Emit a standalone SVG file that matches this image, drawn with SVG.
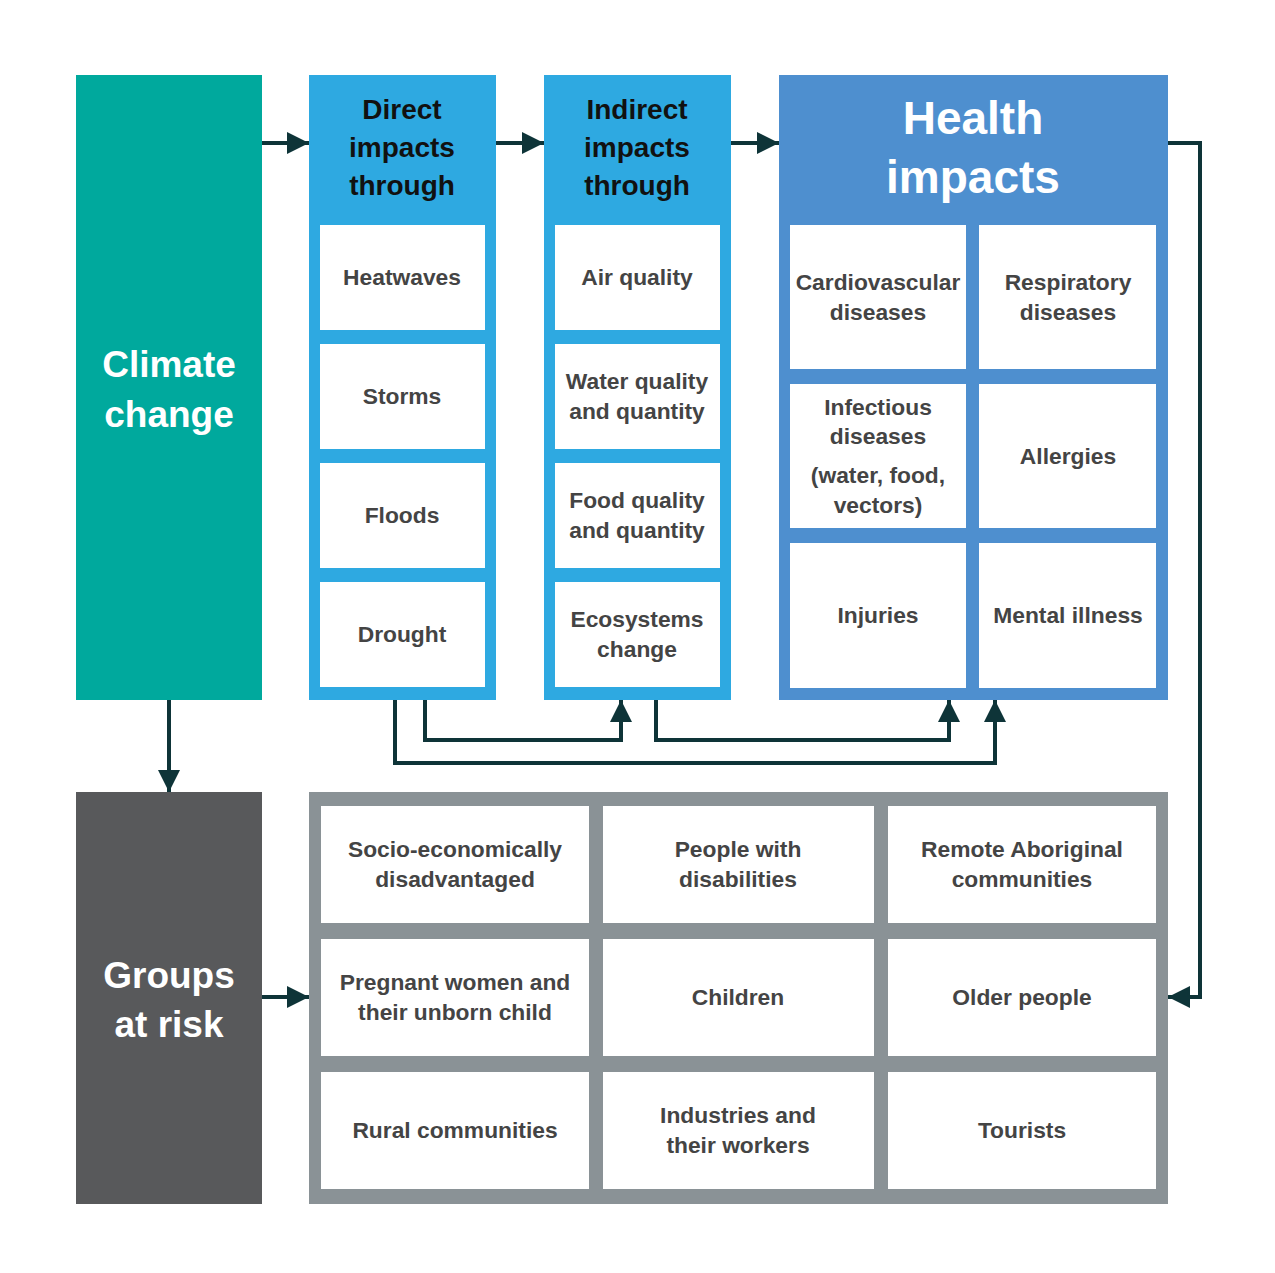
<svg xmlns="http://www.w3.org/2000/svg" width="1275" height="1273" viewBox="0 0 1275 1273">
<defs>
<marker id="ah" viewBox="0 0 10 10" refX="10" refY="5" markerWidth="6" markerHeight="5.5" orient="auto" markerUnits="strokeWidth">
<path d="M0,0 L10,5 L0,10 Z" fill="#0E3438"/>
</marker>
</defs>
<style>
.box{fill:#fff}
.t{font-family:"Liberation Sans",Arial,sans-serif;font-weight:bold;font-size:22.8px;fill:#444;text-anchor:middle}
.h{font-family:"Liberation Sans",Arial,sans-serif;font-weight:bold;font-size:28px;fill:#111;text-anchor:middle}
.w{font-family:"Liberation Sans",Arial,sans-serif;font-weight:bold;fill:#fff;text-anchor:middle}
.c{fill:none;stroke:#0E3438;stroke-width:4}
</style>
<rect width="1275" height="1273" fill="#fff"/>
<g id="climate">
<rect x="76" y="75" width="186" height="625" fill="#00A99D"/>
<text class="w" font-size="37" x="169" y="377">Climate</text>
<text class="w" font-size="37" x="169" y="427">change</text>
</g>
<g id="direct">
<rect x="309" y="75" width="187" height="625" fill="#2EA9E1"/>
<text class="h" x="402" y="119">Direct</text>
<text class="h" x="402" y="157">impacts</text>
<text class="h" x="402" y="195">through</text>
<rect class="box" x="320" y="225" width="165" height="105"/>
<rect class="box" x="320" y="344" width="165" height="105"/>
<rect class="box" x="320" y="463" width="165" height="105"/>
<rect class="box" x="320" y="582" width="165" height="105"/>
<text class="t" x="402" y="285">Heatwaves</text>
<text class="t" x="402" y="404">Storms</text>
<text class="t" x="402" y="523">Floods</text>
<text class="t" x="402" y="642">Drought</text>
</g>
<g id="indirect">
<rect x="544" y="75" width="187" height="625" fill="#2EA9E1"/>
<text class="h" x="637" y="119">Indirect</text>
<text class="h" x="637" y="157">impacts</text>
<text class="h" x="637" y="195">through</text>
<rect class="box" x="555" y="225" width="165" height="105"/>
<rect class="box" x="555" y="344" width="165" height="105"/>
<rect class="box" x="555" y="463" width="165" height="105"/>
<rect class="box" x="555" y="582" width="165" height="105"/>
<text class="t" x="637" y="285">Air quality</text>
<text class="t" x="637" y="389">Water quality</text>
<text class="t" x="637" y="419">and quantity</text>
<text class="t" x="637" y="508">Food quality</text>
<text class="t" x="637" y="538">and quantity</text>
<text class="t" x="637" y="627">Ecosystems</text>
<text class="t" x="637" y="657">change</text>
</g>
<g id="health">
<rect x="779" y="75" width="389" height="625" fill="#4E8FCF"/>
<text class="w" font-size="46" x="973" y="134">Health</text>
<text class="w" font-size="46" x="973" y="193">impacts</text>
<rect class="box" x="790" y="225" width="176" height="144"/>
<rect class="box" x="979" y="225" width="177" height="144"/>
<rect class="box" x="790" y="384" width="176" height="144"/>
<rect class="box" x="979" y="384" width="177" height="144"/>
<rect class="box" x="790" y="543" width="176" height="145"/>
<rect class="box" x="979" y="543" width="177" height="145"/>
<text class="t" x="878" y="290">Cardiovascular</text>
<text class="t" x="878" y="320">diseases</text>
<text class="t" x="1068" y="290">Respiratory</text>
<text class="t" x="1068" y="320">diseases</text>
<text class="t" x="878" y="415">Infectious</text>
<text class="t" x="878" y="444">diseases</text>
<text class="t" x="878" y="483">(water, food,</text>
<text class="t" x="878" y="513">vectors)</text>
<text class="t" x="1068" y="464">Allergies</text>
<text class="t" x="878" y="623">Injuries</text>
<text class="t" x="1068" y="623">Mental illness</text>
</g>
<g id="groups">
<rect x="76" y="792" width="186" height="412" fill="#58595B"/>
<text class="w" font-size="37" x="169" y="988">Groups</text>
<text class="w" font-size="37" x="169" y="1037">at risk</text>
</g>
<g id="risk-grid">
<rect x="309" y="792" width="859" height="412" fill="#8A9296"/>
<rect class="box" x="321" y="806" width="268" height="117"/>
<rect class="box" x="603" y="806" width="271" height="117"/>
<rect class="box" x="888" y="806" width="268" height="117"/>
<rect class="box" x="321" y="939" width="268" height="117"/>
<rect class="box" x="603" y="939" width="271" height="117"/>
<rect class="box" x="888" y="939" width="268" height="117"/>
<rect class="box" x="321" y="1072" width="268" height="117"/>
<rect class="box" x="603" y="1072" width="271" height="117"/>
<rect class="box" x="888" y="1072" width="268" height="117"/>
<text class="t" x="455" y="857">Socio-economically</text>
<text class="t" x="455" y="887">disadvantaged</text>
<text class="t" x="738" y="857">People with</text>
<text class="t" x="738" y="887">disabilities</text>
<text class="t" x="1022" y="857">Remote Aboriginal</text>
<text class="t" x="1022" y="887">communities</text>
<text class="t" x="455" y="990">Pregnant women and</text>
<text class="t" x="455" y="1020">their unborn child</text>
<text class="t" x="738" y="1005">Children</text>
<text class="t" x="1022" y="1005">Older people</text>
<text class="t" x="455" y="1138">Rural communities</text>
<text class="t" x="738" y="1123">Industries and</text>
<text class="t" x="738" y="1153">their workers</text>
<text class="t" x="1022" y="1138">Tourists</text>
</g>
<g id="connectors">
<path class="c" d="M262,143 H309" marker-end="url(#ah)"/>
<path class="c" d="M496,143 H544" marker-end="url(#ah)"/>
<path class="c" d="M731,143 H779" marker-end="url(#ah)"/>
<path class="c" d="M1168,143 H1200 V997 H1168" marker-end="url(#ah)"/>
<path class="c" d="M169,700 V792" marker-end="url(#ah)"/>
<path class="c" d="M262,997 H309" marker-end="url(#ah)"/>
<path class="c" d="M425,700 V740 H621 V700" marker-end="url(#ah)"/>
<path class="c" d="M656,700 V740 H949 V700" marker-end="url(#ah)"/>
<path class="c" d="M395,700 V763 H995 V700" marker-end="url(#ah)"/>
</g>
</svg>
